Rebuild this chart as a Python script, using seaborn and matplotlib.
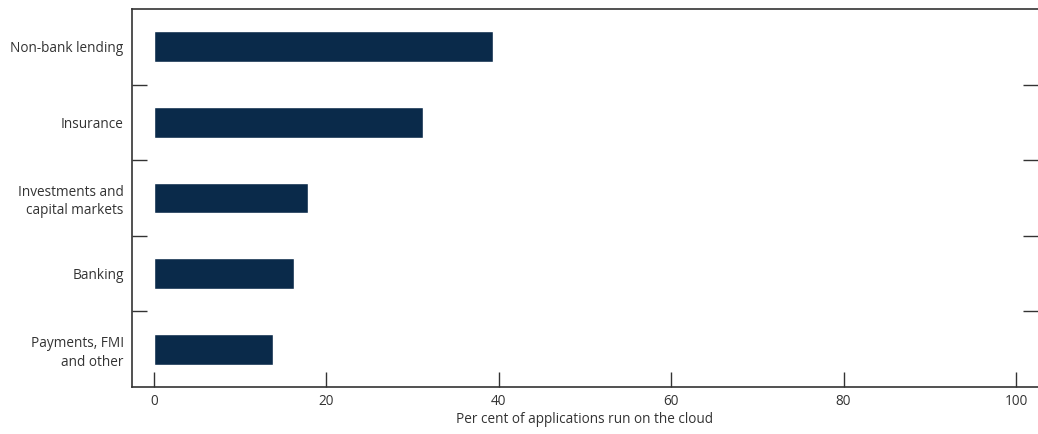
import matplotlib
matplotlib.use("Agg")
import matplotlib.pyplot as plt
import seaborn as sns
import pandas as pd
from matplotlib.ticker import FixedLocator

categories = ["Non-bank lending", "Insurance", "Investments and\ncapital markets",
              "Banking", "Payments, FMI\nand other"]
values = [39.3, 31.2, 17.9, 16.2, 13.8]
x_ticks = [0, 20, 40, 60, 80, 100]
x_label = "Per cent of applications run on the cloud"

sns.set_theme(style="white")
plt.rcParams['font.family'] = ['Open Sans', 'DejaVu Sans']

df = pd.DataFrame({"category": categories, "value": values})

fig = plt.figure(figsize=(10.38, 4.34), dpi=100)
ax = fig.add_axes([132/1038, 1 - 387/434, 1 - 132/1038, (387 - 9)/434])

sns.barplot(data=df, y="category", x="value", orient="h", color="#0a2a4a",
            saturation=1, width=0.41, ax=ax)

ax.set_xlim(-2.55, 102.55)
ax.set_ylim(4.5, -0.5)
ax.set_xticks(x_ticks)
ax.set_xticklabels([str(t) for t in x_ticks])
ax.set_xlabel(x_label, fontsize=9.8, color="#333333", labelpad=2)
ax.set_ylabel("")

ax.yaxis.set_minor_locator(FixedLocator([0.5, 1.5, 2.5, 3.5]))
ax.tick_params(axis="y", which="major", length=0, pad=6, labelsize=9.8, labelcolor="#333333")
ax.tick_params(axis="y", which="minor", direction="in", length=10.5, width=1.0,
               color="#333333", left=True, right=True)
ax.tick_params(axis="x", which="major", direction="in", length=10.5, width=1.0,
               color="#333333", bottom=True, labelsize=9.8, labelcolor="#333333", pad=5)

for s in ["left", "top", "bottom"]:
    ax.spines[s].set_visible(True)
    ax.spines[s].set_color("#333333")
    ax.spines[s].set_linewidth(1.2)
ax.spines["right"].set_visible(False)

for lbl in ax.get_yticklabels():
    lbl.set_horizontalalignment("right")
    lbl.set_multialignment("right")
    lbl.set_linespacing(1.3)

fig.savefig("out.png", dpi=100)
